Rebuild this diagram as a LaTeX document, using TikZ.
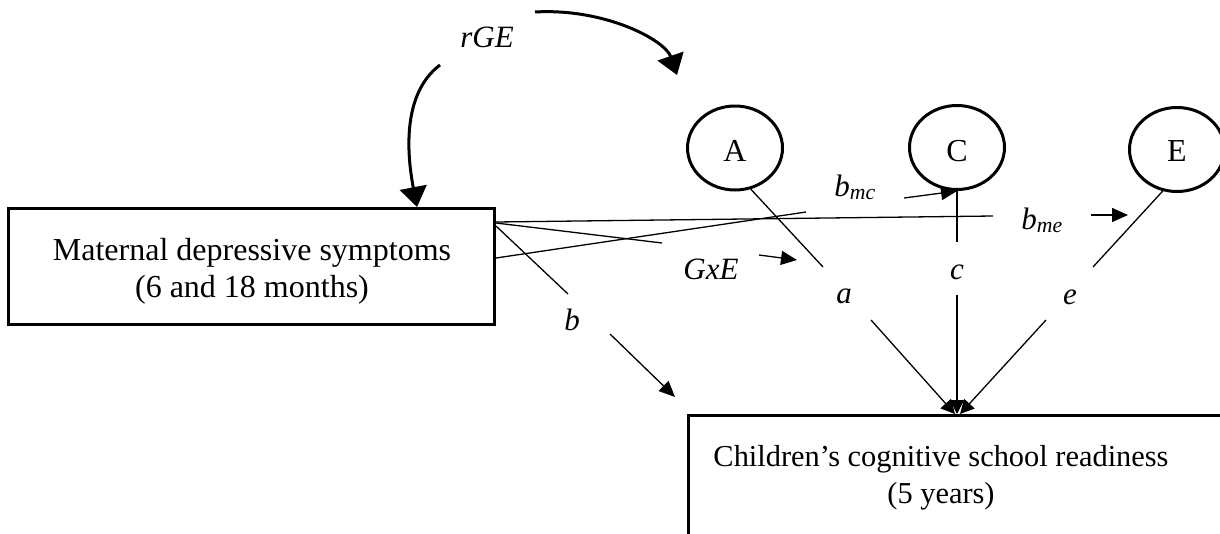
\documentclass[tikz,border=0pt]{standalone}
\usepackage{fontspec}
\setmainfont{Liberation Serif}
\usetikzlibrary{arrows.meta,shapes.geometric,calc}
\begin{document}
\begin{tikzpicture}[x=1pt,y=-1pt,
  box/.style={draw,line width=3pt,inner sep=0pt},
  boxtext/.style={align=center,inner sep=0pt,font=\fontsize{32}{37}\selectfont},
  latent/.style={ellipse,draw,line width=3pt,minimum width=95pt,minimum height=84pt,inner sep=0pt,font=\fontsize{32}{37}\selectfont},
  lab/.style={anchor=base,font=\fontsize{31}{36}\selectfont\itshape,inner sep=0pt},
  thinline/.style={line width=1.3pt},
  thinarrow/.style={thinline,-{Triangle[length=16pt,width=14pt]}},
  pointarrow/.style={thinline,-{Triangle[length=14pt,width=14pt]}},
  bigarrow/.style={line width=3pt,-{Triangle[length=20pt,width=27pt]}},
]
\clip (0,0) rectangle (1220,533);
% boxes
\node[box,minimum width=486pt,minimum height=116pt] (mat) at (251.5,266.5) {};
\node[boxtext] (mattxt) at (252,271.5) {Maternal depressive symptoms\\(6 and 18 months)};
\node[box,minimum width=551.5pt,minimum height=144.5pt] (child) at (964.25,487.75) {};
\node[boxtext,font=\fontsize{30.4}{37}\selectfont] (childtxt) at (941,478) {Children’s cognitive school readiness\\(5 years)};
% latent variables
\node[latent] (A) at (735,148) {\raisebox{-2.5pt}[\height][0pt]{A}};
\node[latent] (C) at (957,147.5) {\raisebox{-3.5pt}[\height][0pt]{C}};
\node[latent] (E) at (1177,149.5) {\raisebox{-1.5pt}[\height][0pt]{E}};
% labels
\node[lab] (rge) at (487,47) {rGE};
\node[lab] (gxe) at (711,279) {GxE};
\node[lab] (bmc) at (855,196) {b\textsubscript{mc}};
\node[lab] (bme) at (1042,229) {b\textsubscript{me}};
\node[lab] (la) at (844,303) {a};
\node[lab] (lc) at (957,279) {c};
\node[lab] (le) at (1070,304) {e};
\node[lab] (lb) at (572,330) {b};
% coordinates
\coordinate (g1) at (535,12);
\coordinate (g1t) at (677,75);
\coordinate (g2) at (440,65);
\coordinate (g2t) at ($(mat.north west)+(410,0)$);
\coordinate (me0) at ($(mat.north east)+(0,15)$);
\coordinate (me1) at (993,216);
\coordinate (me2) at (1091,215);
\coordinate (me3) at (1128,215);
\coordinate (gx0) at ($(mat.north east)+(0,16)$);
\coordinate (gx1) at (662,243);
\coordinate (gx2) at (759,255);
\coordinate (gx3) at (797,260);
\coordinate (mc0) at ($(mat.north east)+(0,51)$);
\coordinate (mc1) at (806,212);
\coordinate (mc2) at (904,198);
\coordinate (b0) at ($(mat.north east)+(0,19)$);
\coordinate (b1) at (568,294);
\coordinate (b2) at (610,334);
\coordinate (b3) at (675,397);
\coordinate (a1) at (823,267);
\coordinate (a2) at (871,320);
\coordinate (c1) at (957,242);
\coordinate (c2) at (957,295);
\coordinate (e1) at (1093,267);
\coordinate (e2) at (1046,320);
\coordinate (ta) at ($(child.north west)+(268,0)$);
\coordinate (tc) at ($(child.north west)+(270,0)$);
\coordinate (te) at ($(child.north west)+(273,0)$);
% rGE curves
\draw[bigarrow] (g1) .. controls (605,8) and (665,40) .. (g1t);
\draw[bigarrow] (g2) .. controls (400,95) and (408,160) .. (g2t);
% b_me
\draw[thinline] (me0) -- (me1);
\draw[thinarrow] (me2) -- (me3);
% GxE
\draw[thinline] (gx0) -- (gx1);
\draw[thinarrow] (gx2) -- (gx3);
% b_mc
\draw[thinline] (mc0) -- (mc1);
\draw[thinarrow] (mc2) -- (C.south);
% b
\draw[thinline] (b0) -- (b1);
\draw[thinarrow] (b2) -- (b3);
% a, c, e
\draw[thinline] (A.-69) -- (a1);
\draw[pointarrow] (a2) -- (ta);
\draw[thinline] (C.south) -- (c1);
\draw[pointarrow] (c2) -- (tc);
\draw[thinline] (E.-109) -- (e1);
\draw[pointarrow] (e2) -- (te);
\end{tikzpicture}
\end{document}
